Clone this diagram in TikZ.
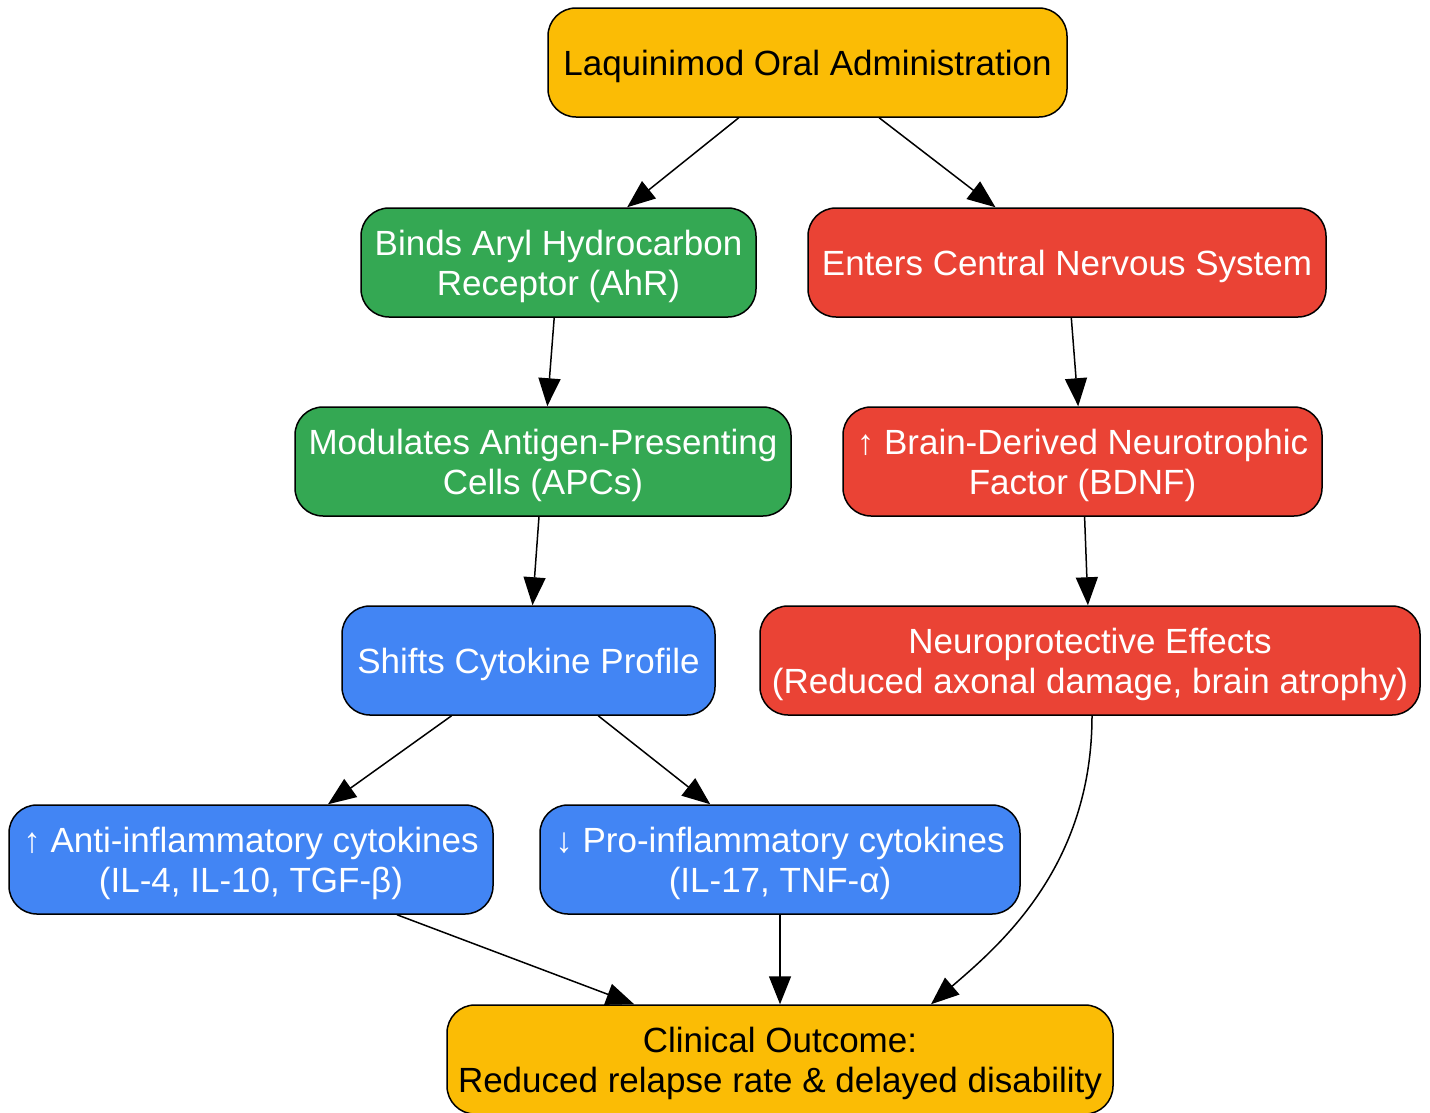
\documentclass[tikz,border=0pt]{standalone}
\usepackage{fontspec}
\setmainfont{Liberation Sans}
\usetikzlibrary{arrows.meta}
\definecolor{gyellow}{HTML}{FBBC05}
\definecolor{ggreen}{HTML}{34A853}
\definecolor{gred}{HTML}{EA4335}
\definecolor{gblue}{HTML}{4285F4}
\begin{document}
\begin{tikzpicture}[x=1pt,y=-1pt,box/.style={draw,line width=1.5pt,rounded corners=28pt,
    minimum height=109pt,inner xsep=12pt,text depth=-5pt,align=center,font=\fontsize{35}{40}\selectfont},
  arj/.style={line width=1.5pt,-{Triangle[length=28pt,width=22pt]}}]
  \useasboundingbox (0,0) rectangle (1430,1112);
  % left branch: immune side, right branch: CNS side
  \node[box,fill=gyellow,minimum width=519pt] (laq) at (807.5,62.5) {Laquinimod Oral Administration};
  \node[box,fill=ggreen,text=white,minimum width=395pt] (ahr) at (558.5,262.5) {Binds Aryl Hydrocarbon\\Receptor (AhR)};
  \node[box,fill=gred,text=white,minimum width=518pt] (cns) at (1067,262.5) {Enters Central Nervous System};
  \node[box,fill=ggreen,text=white,minimum width=496pt] (apc) at (543,461.5) {Modulates Antigen-Presenting\\Cells (APCs)};
  \node[box,fill=gred,text=white,minimum width=479pt] (bdnf) at (1082.5,461.5) {↑ Brain-Derived Neurotrophic\\Factor (BDNF)};
  \node[box,fill=gblue,text=white,minimum width=373pt] (cyto) at (528.5,660.5) {Shifts Cytokine Profile};
  \node[box,fill=gred,text=white,minimum width=660pt,inner xsep=8pt] (neuro) at (1090,660.5) {Neuroprotective Effects\\(Reduced axonal damage, brain atrophy)};
  \node[box,fill=gblue,text=white,minimum width=484pt] (anti) at (251,859.5) {↑ Anti-inflammatory cytokines\\(IL-4, IL-10, TGF-β)};
  \node[box,fill=gblue,text=white,minimum width=480pt] (pro) at (780,859.5) {↓ Pro-inflammatory cytokines\\(IL-17, TNF-α)};
  \node[box,fill=gyellow,minimum width=666pt,inner xsep=8pt] (outcome) at (780,1059.5) {Clinical Outcome:\\Reduced relapse rate \& delayed disability};
  \draw[arj] (laq) -- (ahr);
  \draw[arj] (laq) -- (cns);
  \draw[arj] (ahr) -- (apc);
  \draw[arj] (cns) -- (bdnf);
  \draw[arj] (apc) -- (cyto);
  \draw[arj] (bdnf) -- (neuro);
  \draw[arj] (cyto) -- (anti);
  \draw[arj] (cyto) -- (pro);
  \draw[arj] (anti) -- (outcome);
  \draw[arj] (pro) -- (outcome);
  \draw[arj] ([xshift=2pt]neuro.south) .. controls ++(0,150) and ++(70,-60) .. ([xshift=151pt]outcome.north);
\end{tikzpicture}
\end{document}
